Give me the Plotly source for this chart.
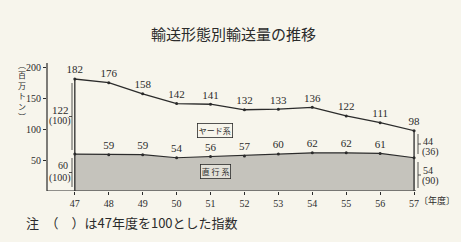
import plotly.graph_objects as go

# ---- data ----
years = [47, 48, 49, 50, 51, 52, 53, 54, 55, 56, 57]
total = [182, 176, 158, 142, 141, 132, 133, 136, 122, 111, 98]   # ヤード系 + 直行系
direct = [60, 59, 59, 54, 56, 57, 60, 62, 62, 61, 54]            # 直行系
yard_first, yard_first_idx = 122, 100
direct_first, direct_first_idx = 60, 100
yard_last, yard_last_idx = 44, 36
direct_last, direct_last_idx = 54, 90
y_ticks = [50, 100, 150, 200]

# ---- layout geometry (pixels) ----
W, H = 461, 242
L, R, T, B = 47, 448, 63, 191
XR = [46.18, 58.0]
YR = [0, 208]

def fx(px):
    return (px - L) / (R - L)

def fy(py):
    return (B - py) / (B - T)

INK = "#2b2b2b"
PAPER = "#f7f5ec"
SERIF = "Liberation Serif, DejaVu Serif, serif"
CJK = "Noto Sans CJK JP, sans-serif"

fig = go.Figure()

# stippled 直行系 area (end values are written beside the chart)
fig.add_trace(go.Scatter(
    x=years, y=direct, mode="lines+markers+text",
    line=dict(color=INK, width=1.2),
    marker=dict(size=3, color=INK),
    fill="tozeroy", fillcolor="#c8c6bf",
    fillpattern=dict(shape=".", fgcolor="#8a8a86", bgcolor="#d3d1c9", size=2, solidity=0.45),
    text=[""] + [str(v) for v in direct[1:-1]] + [""], textposition="top center",
    textfont=dict(family=SERIF, size=11, color=INK),
    hoverinfo="skip", showlegend=False, cliponaxis=False,
))

# total outline (with vertical edges at both ends)
fig.add_trace(go.Scatter(
    x=[years[0]] + years + [years[-1]], y=[0] + total + [0],
    mode="lines", line=dict(color=INK, width=1.3),
    hoverinfo="skip", showlegend=False,
))
fig.add_trace(go.Scatter(
    x=years, y=total, mode="markers+text",
    marker=dict(size=3, color=INK),
    text=[str(v) for v in total], textposition="top center",
    textfont=dict(family=SERIF, size=11, color=INK),
    hoverinfo="skip", showlegend=False, cliponaxis=False,
))

shapes = []
# axis lines
shapes.append(dict(type="line", xref="paper", yref="paper", x0=0, x1=0, y0=0, y1=1,
                   line=dict(color=INK, width=1.2)))
shapes.append(dict(type="line", xref="paper", yref="y", x0=0, x1=fx(416), y0=0, y1=0,
                   line=dict(color=INK, width=1.2)))

def bracket(xpx, ypx0, ypx1, left=True):
    ym = (ypx0 + ypx1) / 2
    d = -3 if left else 3
    shapes.append(dict(type="line", xref="paper", yref="paper", x0=fx(xpx), x1=fx(xpx),
                       y0=fy(ypx0 + 3), y1=fy(ypx1 - 3), line=dict(color=INK, width=0.8)))
    shapes.append(dict(type="line", xref="paper", yref="paper", x0=fx(xpx), x1=fx(xpx + d),
                       y0=fy(ym), y1=fy(ym), line=dict(color=INK, width=0.8)))

# left brackets
bracket(72, 80, 153, left=True)
bracket(72, 155, 190, left=True)
# right brackets
bracket(418, 131, 157, left=False)
bracket(418, 159, 191, left=False)
fig.update_layout(shapes=shapes)

ann = []
def txt(x, y, s, size=11, fam=SERIF, xanchor="center", **kw):
    ann.append(dict(x=x, y=y, xref="paper", yref="paper", text=s, showarrow=False,
                    xanchor=xanchor, yanchor="middle",
                    font=dict(family=fam, size=size, color=INK), **kw))

# left side values
txt(fx(60), fy(110), str(yard_first))
txt(fx(60), fy(121), "(%d)" % yard_first_idx, size=10)
txt(fx(63), fy(165), str(direct_first), size=10)
txt(fx(60), fy(178), "(%d)" % direct_first_idx, size=10)

# right side values
txt(fx(428), fy(141), str(yard_last), size=10)
txt(fx(430), fy(152), "(%d)" % yard_last_idx, size=10)
txt(fx(428), fy(170), str(direct_last), size=10)
txt(fx(430), fy(181), "(%d)" % direct_last_idx, size=10)

# series labels
ann.append(dict(x=fx(215), y=fy(130), xref="paper", yref="paper", text="ヤード系",
                showarrow=False, xanchor="center", yanchor="middle",
                font=dict(family=CJK, size=8, color=INK),
                bordercolor=INK, borderwidth=0.8, borderpad=1, bgcolor=PAPER))
ann.append(dict(x=fx(215), y=fy(171), xref="paper", yref="paper", text="直 行 系",
                showarrow=False, xanchor="center", yanchor="middle",
                font=dict(family=CJK, size=8, color=INK),
                bordercolor=INK, borderwidth=0.8, borderpad=1, bgcolor="#e2e0d8"))

# y axis title (vertical)
ann.append(dict(x=fx(22), y=fy(90), xref="paper", yref="paper",
                text="︵<br>百<br>万<br>ト<br>ン<br>︶", showarrow=False,
                xanchor="center", yanchor="middle",
                font=dict(family=CJK, size=8, color=INK)))
# year unit
txt(fx(437), fy(200), "〔年度〕", size=9, fam=CJK)
# note
txt(fx(24), fy(222), "注　（　）は47年度を100とした指数", size=13, fam=CJK, xanchor="left")
# title
txt(fx(233), fy(33), "輸送形態別輸送量の推移", size=15, fam=CJK)

fig.update_layout(
    annotations=ann,
    width=W, height=H,
    margin=dict(l=L, r=W - R, t=T, b=H - B, pad=0),
    paper_bgcolor=PAPER, plot_bgcolor=PAPER,
    xaxis=dict(range=XR, tickvals=years, ticktext=[str(y) for y in years],
               showgrid=False, zeroline=False, showline=False,
               ticks="outside", ticklen=3, tickcolor=INK,
               tickfont=dict(family=SERIF, size=10, color=INK)),
    yaxis=dict(range=YR, tickvals=y_ticks, showgrid=False, zeroline=False, showline=False,
               ticks="outside", ticklen=3, tickcolor=INK,
               tickfont=dict(family=SERIF, size=10, color=INK)),
)

fig.write_html("out.html")
